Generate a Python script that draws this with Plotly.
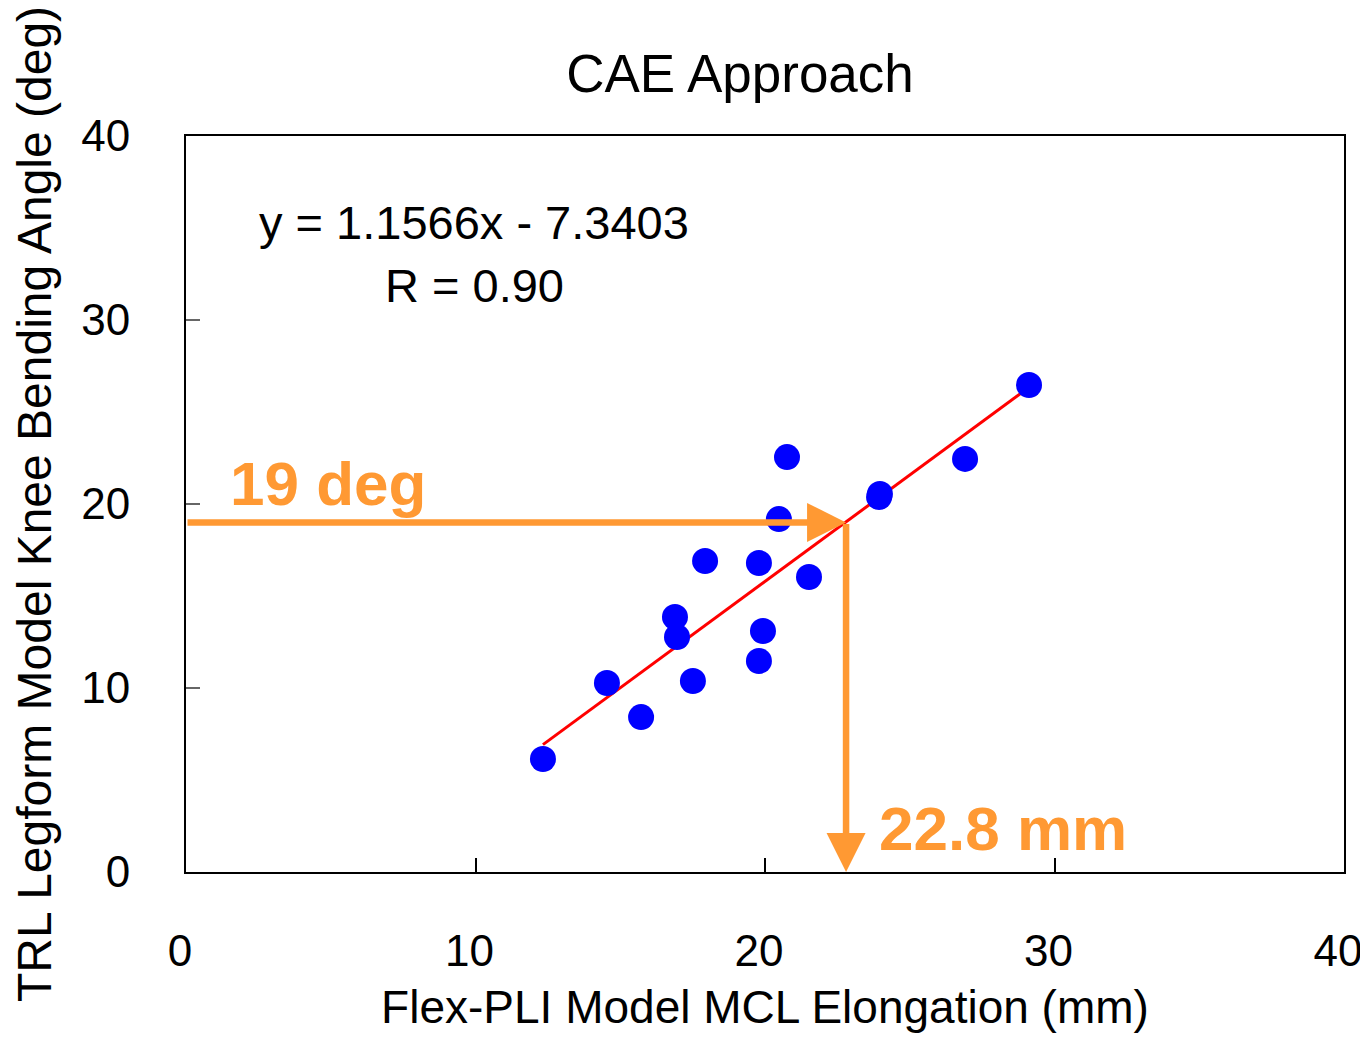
import plotly.graph_objects as go

# Flex-PLI MCL elongation (mm) vs TRL knee bending angle (deg)
mcl_elong = [12.33, 14.54, 15.72, 16.89, 16.96, 17.51, 17.93, 19.79, 19.93, 19.79,
             20.48, 20.76, 21.52, 23.97, 23.94, 26.91, 29.12]
bend_angle = [6.14, 10.27, 8.42, 13.86, 12.77, 10.38, 16.90, 11.47, 13.10, 16.79,
              19.18, 22.55, 16.03, 20.54, 20.38, 22.45, 26.47]

slope, intercept = 1.1566, -7.3403
fit_x = [min(mcl_elong), max(mcl_elong)]
fit_y = [slope * v + intercept for v in fit_x]

target_angle = 19
target_elong = 22.8

x_ticks = [0, 10, 20, 30, 40]
x_ticktext = ["0", "10", "20", "30", "40"]
y_ticks = [0, 10, 20, 30, 40]

FONT = "Arial, Liberation Sans, sans-serif"
ORANGE = "#FF9933"

fig = go.Figure()
fig.add_trace(go.Scatter(x=fit_x, y=fit_y, mode="lines",
                         line=dict(color="#FF0000", width=3), hoverinfo="skip"))
fig.add_trace(go.Scatter(x=mcl_elong, y=bend_angle, mode="markers",
                         marker=dict(color="#0000FF", size=26, line=dict(width=0))))

# orange guide arrows
fig.add_annotation(x=target_elong, y=target_angle, ax=0, ay=target_angle,
                   xref="x", yref="y", axref="x", ayref="y", text="",
                   showarrow=True, arrowhead=2, arrowwidth=6.5, arrowsize=1.2,
                   arrowcolor=ORANGE, standoff=0, startstandoff=0)
fig.add_annotation(x=target_elong, y=0, ax=target_elong, ay=target_angle,
                   xref="x", yref="y", axref="x", ayref="y", text="",
                   showarrow=True, arrowhead=2, arrowwidth=6.5, arrowsize=1.2,
                   arrowcolor=ORANGE, standoff=0, startstandoff=0)

fig.add_annotation(x=1.45, y=21.1, xref="x", yref="y", text="<b>19 deg</b>",
                   showarrow=False, xanchor="left", yanchor="middle",
                   font=dict(family=FONT, size=62, color=ORANGE))
fig.add_annotation(x=23.87, y=2.39, xref="x", yref="y", text="<b>22.8 mm</b>",
                   showarrow=False, xanchor="left", yanchor="middle",
                   font=dict(family=FONT, size=62, color=ORANGE))

fig.add_annotation(x=9.95, y=35.3, xref="x", yref="y", text="y = 1.1566x - 7.3403",
                   showarrow=False, xanchor="center", yanchor="middle",
                   font=dict(family=FONT, size=47, color="black"))
fig.add_annotation(x=9.95, y=31.9, xref="x", yref="y", text="R = 0.90",
                   showarrow=False, xanchor="center", yanchor="middle",
                   font=dict(family=FONT, size=47, color="black"))

W, H = 1360, 1025
fig.update_layout(
    width=W, height=H,
    margin=dict(l=178, r=24, t=128, b=161, autoexpand=False),
    paper_bgcolor="white", plot_bgcolor="white",
    showlegend=False,
    font=dict(family=FONT, color="black"),
    title=dict(text="CAE Approach", x=732 / W, xanchor="center",
               y=1 - 65 / H, yanchor="middle", automargin=False,
               font=dict(family=FONT, size=53, color="black")),
)
fig.update_xaxes(range=[0, 40], tickvals=x_ticks,
                 ticktext=[t + "\u00a0" for t in x_ticktext],
                 ticklabeloverflow="allow",
                 showgrid=False, zeroline=False, automargin=False,
                 showline=True, linecolor="black", linewidth=2, mirror=True,
                 ticks="inside", ticklen=14, tickwidth=1.5, tickcolor="black",
                 ticklabelstandoff=39,
                 tickfont=dict(family=FONT, size=44),
                 title=dict(text="Flex-PLI Model MCL Elongation (mm)", standoff=39,
                            font=dict(family=FONT, size=46)))
fig.update_yaxes(range=[0, 40], tickvals=y_ticks, showgrid=False, zeroline=False,
                 automargin=False,
                 showline=True, linecolor="black", linewidth=2, mirror=True,
                 ticks="inside", ticklen=14, tickwidth=1.5, tickcolor="#666666",
                 ticklabelstandoff=45,
                 tickfont=dict(family=FONT, size=44),
                 title=dict(text="TRL Legform Model Knee Bending Angle (deg)", standoff=23,
                            font=dict(family=FONT, size=48)))

fig.write_html("out.html")
